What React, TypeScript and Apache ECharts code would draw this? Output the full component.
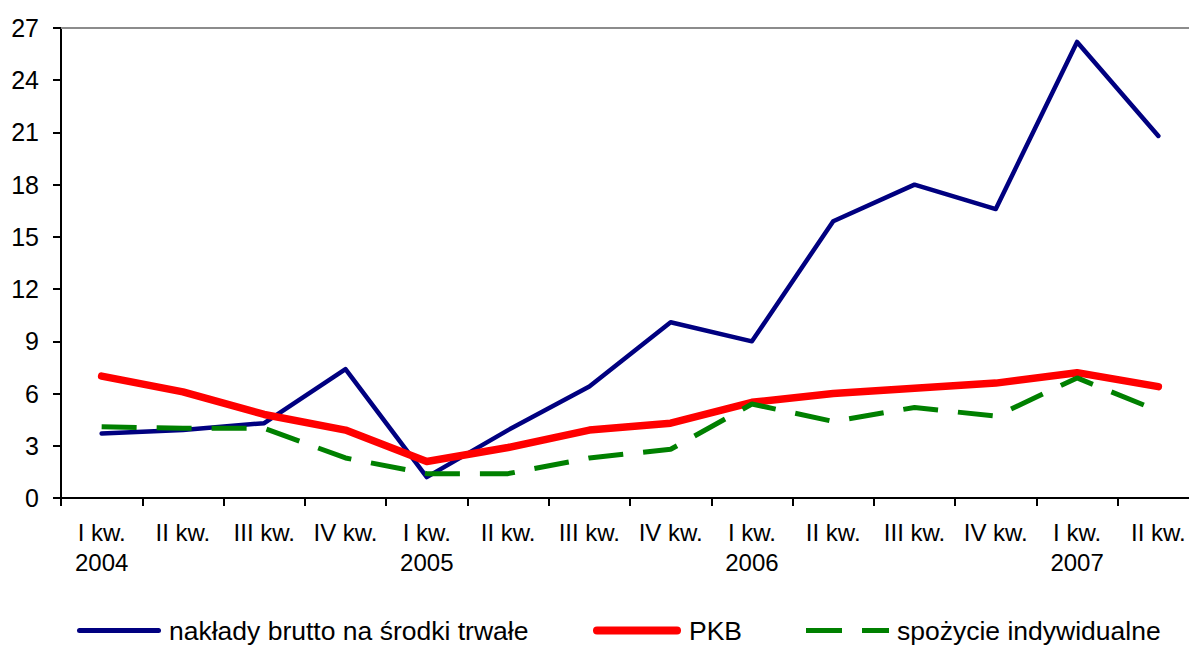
import React, { useEffect, useRef } from "react";
import * as echarts from "echarts";

const categories = [
  "I kw.\n2004", "II kw.", "III kw.", "IV kw.",
  "I kw.\n2005", "II kw.", "III kw.", "IV kw.",
  "I kw.\n2006", "II kw.", "III kw.", "IV kw.",
  "I kw.\n2007", "II kw.",
];
const naklady = [3.7, 3.9, 4.3, 7.4, 1.2, 3.9, 6.4, 10.1, 9.0, 15.9, 18.0, 16.6, 26.2, 20.8];
const pkb = [7.0, 6.1, 4.8, 3.9, 2.1, 2.9, 3.9, 4.3, 5.5, 6.0, 6.3, 6.6, 7.2, 6.4];
const spozycie = [4.1, 4.0, 4.0, 2.3, 1.4, 1.4, 2.3, 2.8, 5.4, 4.4, 5.2, 4.7, 6.9, 5.0];
const seriesNames = ["nakłady brutto na środki trwałe", "PKB", "spożycie indywidualne"];

const FONT = "'Liberation Sans', Arial, sans-serif";

export default function App() {
  const ref = useRef<HTMLDivElement>(null);
  useEffect(() => {
    document.body.style.margin = "0";
    const chart = echarts.init(ref.current!, null, { renderer: "svg" });
    const legendBase = {
      top: 617,
      padding: 0,
      textStyle: { fontFamily: FONT, fontSize: 26.5, color: "#000", padding: [0, 0, 0, 3] },
      selectedMode: false,
    };
    chart.setOption({
      animation: false,
      backgroundColor: "#fff",
      grid: { left: 61, top: 28, right: 1, bottom: 147, containLabel: false },
      legend: [
        {
          ...legendBase,
          left: 77,
          itemWidth: 84,
          itemHeight: 5,
          icon: "path://M2.5,0h79a2.5,2.5,0,0,1,0,5h-79a2.5,2.5,0,0,1,0,-5z",
          data: [seriesNames[0]],
        },
        {
          ...legendBase,
          left: 593,
          itemWidth: 88,
          itemHeight: 8,
          icon: "path://M4,0h80a4,4,0,0,1,0,8h-80a4,4,0,0,1,0,-8z",
          data: [seriesNames[1]],
        },
        {
          ...legendBase,
          left: 806,
          itemWidth: 83,
          itemHeight: 5,
          icon: "path://M0,0h36v5h-36z M56,0h27v5h-27z",
          data: [seriesNames[2]],
        },
      ],
      xAxis: [
        {
          type: "category",
          data: categories,
          boundaryGap: true,
          axisLine: { show: true, lineStyle: { color: "#000", width: 2 } },
          axisTick: { show: true, length: 8, lineStyle: { color: "#000", width: 2 } },
          axisLabel: {
            interval: 0,
            margin: 19,
            fontFamily: FONT,
            fontSize: 24,
            lineHeight: 30,
            color: "#000",
          },
          splitLine: { show: false },
        },
        {
          type: "category",
          data: categories,
          position: "top",
          axisLine: { show: true, lineStyle: { color: "#8c8c8c", width: 2 } },
          axisTick: { show: false },
          axisLabel: { show: false },
          splitLine: { show: false },
        },
      ],
      yAxis: {
        type: "value",
        min: 0,
        max: 27,
        interval: 3,
        axisLine: { show: true, lineStyle: { color: "#000", width: 2 } },
        axisTick: { show: true, length: 8, lineStyle: { color: "#000", width: 2 } },
        axisLabel: { margin: 22, fontFamily: FONT, fontSize: 25, color: "#000" },
        splitLine: { show: false },
      },
      series: [
        {
          name: seriesNames[0],
          type: "line",
          data: naklady,
          symbol: "none",
          lineStyle: { color: "#000080", width: 4.5, cap: "round", join: "round" },
          itemStyle: { color: "#000080" },
        },
        {
          name: seriesNames[1],
          type: "line",
          data: pkb,
          symbol: "none",
          lineStyle: { color: "#ff0000", width: 7.5, cap: "round", join: "round" },
          itemStyle: { color: "#ff0000" },
        },
        {
          name: seriesNames[2],
          type: "line",
          data: spozycie,
          symbol: "none",
          lineStyle: { color: "#008000", width: 5, type: [35, 20], cap: "butt" },
          itemStyle: { color: "#008000" },
        },
      ],
    });
    return () => chart.dispose();
  }, []);
  return (
    <div style={{ position: "fixed", left: 0, top: 0, width: 1189, height: 645, overflow: "hidden" }}>
      <div ref={ref} style={{ width: 1200, height: 645 }} />
    </div>
  );
}
